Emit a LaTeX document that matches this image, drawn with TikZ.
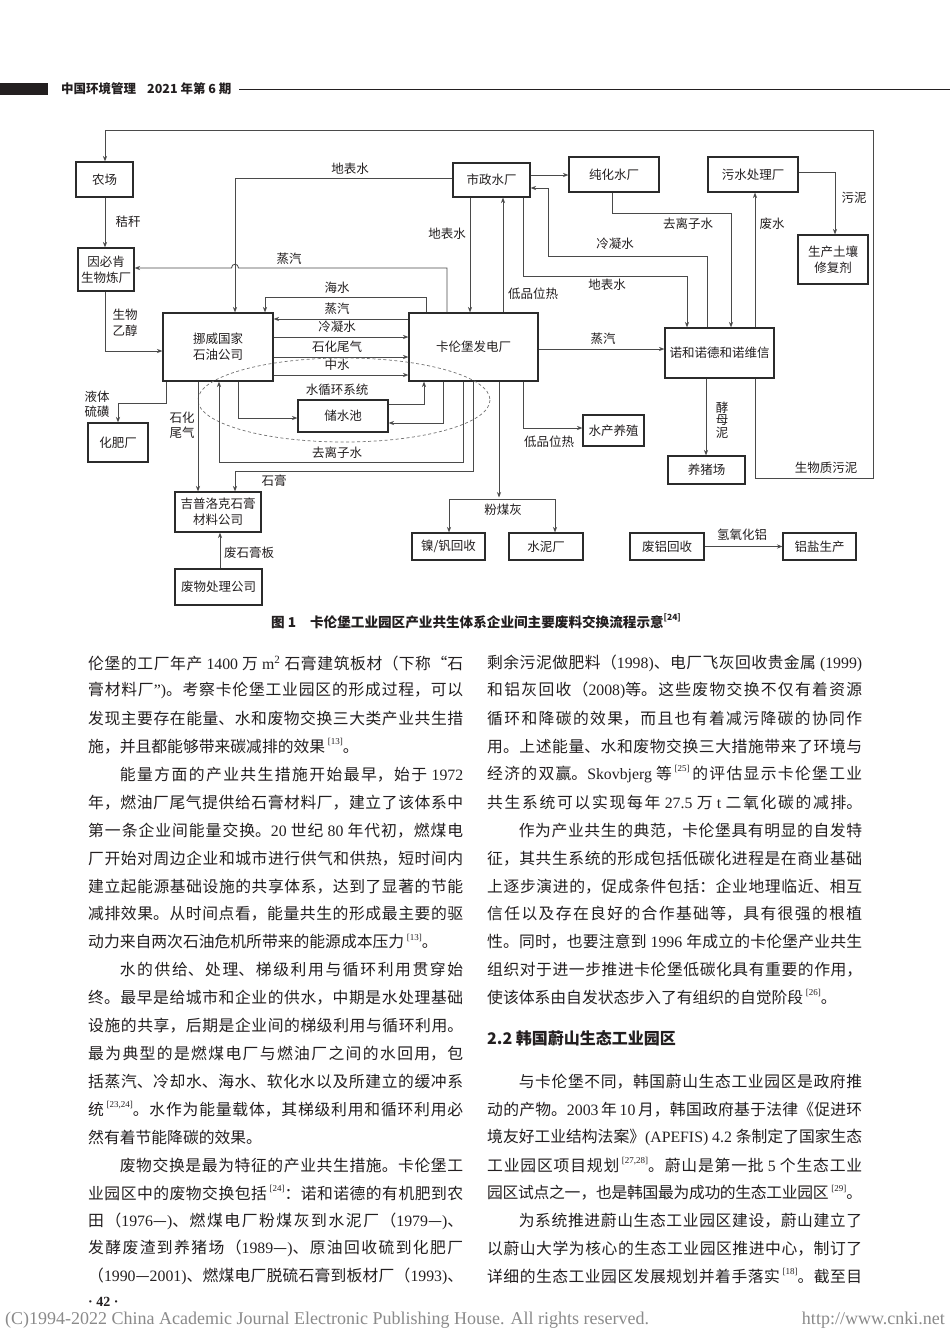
\documentclass[tikz,border=0pt]{standalone}
\usepackage{fontspec}
\setmainfont{Noto Sans CJK SC}
\newfontfamily\lserif{Liberation Serif}
\usetikzlibrary{arrows.meta,calc}
\XeTeXlinebreaklocale "zh"
\XeTeXlinebreakskip=0pt plus 8pt minus 0.6pt
\XeTeXlinebreakpenalty=10000
\definecolor{txt}{HTML}{231F20}
\definecolor{linec}{HTML}{4A4A4A}
\definecolor{boxc}{HTML}{2B2B2B}
\definecolor{dashc}{HTML}{707070}
\definecolor{foot}{HTML}{8A8A8A}
\newcommand\dfont{\fontsize{12.5}{16}\selectfont}
\newcommand\bodyf{\fontsize{15.8}{18}\selectfont}
\newcommand\T[1]{{\lserif #1}}
\newcommand\rf[1]{\smash{\raisebox{0.5em}{\fontsize{9}{9}\selectfont\lserif{}[#1]}}}
\newcommand\JL[3]{\node[anchor=west,inner sep=0pt,text=txt] (#1) at (#2) {\parbox{375pt}{\bodyf\parfillskip=0pt\relax#3}};}
\newcommand\PL[3]{\node[anchor=west,inner sep=0pt,text=txt] (#1) at (#2) {\parbox{375pt}{\bodyf#3}};}
\tikzset{
  box/.style={draw=boxc,line width=1.2pt,inner sep=0pt,align=center,font=\dfont,text=txt},
  lab/.style={font=\dfont,inner sep=0pt,text=txt,align=center},
  con/.style={draw=linec,line width=0.85pt},
  arr/.style={con,-{Stealth[length=5.5pt,width=4.2pt]}},
}
\begin{document}
\begin{tikzpicture}[x=1pt,y=-1pt]
\useasboundingbox (0,0) rectangle (950,1330);
\fill[white] (0,0) rectangle (950,1330);

% header
\fill[txt] (0,83) rectangle (48,95);
\node[anchor=west,inner sep=0pt,text=txt,font=\bfseries\fontsize{12.5}{14}\selectfont] (hdr) at (61,89) {中国环境管理\hspace{11pt}2021 年第 6 期};
\draw[txt,line width=0.9pt] (239,89) -- (950,89);

% boxes
\node[box,minimum width=57pt,minimum height=35pt] (farm) at (104.5,179.5) {农场};
\node[box,minimum width=56pt,minimum height=43pt] (yin) at (106,269.5) {因必肯\\生物炼厂};
\node[box,minimum width=77pt,minimum height=34pt] (muni) at (491.5,180) {市政水厂};
\node[box,minimum width=90pt,minimum height=35pt] (pure) at (614,174.5) {纯化水厂};
\node[box,minimum width=90pt,minimum height=35pt] (sewage) at (753,174.5) {污水处理厂};
\node[box,minimum width=70pt,minimum height=49pt] (soil) at (833,259.5) {生产土壤\\修复剂};
\node[box,minimum width=110pt,minimum height=68pt] (nor) at (218,347) {挪威国家\\石油公司};
\node[box,minimum width=129pt,minimum height=68pt] (kal) at (473.5,347) {卡伦堡发电厂};
\node[box,minimum width=109pt,minimum height=50pt] (novo) at (719.5,353) {诺和诺德和诺维信};
\node[box,minimum width=90pt,minimum height=32pt] (pool) at (343,416) {储水池};
\node[box,minimum width=60pt,minimum height=39pt] (fert) at (118,442.5) {化肥厂};
\node[box,minimum width=61pt,minimum height=31pt] (aqua) at (613.5,430.5) {水产养殖};
\node[box,minimum width=77pt,minimum height=28pt] (pig) at (706.5,470) {养猪场};
\node[box,minimum width=86pt,minimum height=40pt] (gyp) at (218,512) {吉普洛克石膏\\材料公司};
\node[box,minimum width=87pt,minimum height=36pt] (waste) at (218.5,587) {废物处理公司};
\node[box,minimum width=73pt,minimum height=27pt] (nick) at (448.5,546.5) {镍/钒回收};
\node[box,minimum width=74pt,minimum height=27pt] (cement) at (546,546.5) {水泥厂};
\node[box,minimum width=74pt,minimum height=27pt] (alu) at (667,546.5) {废铝回收};
\node[box,minimum width=73pt,minimum height=27pt] (alsalt) at (819.5,546.5) {铝盐生产};

% water cycle ellipse
\draw[dashc,line width=0.7pt,dash pattern=on 3pt off 2.5pt] (344,400) ellipse (146 and 42);

% connectors
\draw[arr] (755,0 |- novo.south) -- (755,478) -- (873,478) -- (873,130) -- (105,130) -- (105,0 |- farm.north);
\draw[arr] (105,0 |- farm.south) -- (105,0 |- yin.north);
\draw[arr] (105,0 |- yin.south) -- (105,351) -- (nor.west |- 0,351);
\draw[arr] (muni.west |- 0,178) -- (235,178) -- (235,0 |- nor.north);
\draw[arr] (447,0 |- kal.north) -- (447,268) -- (238.5,268) .. controls (238.5,263) and (231.5,263) .. (231.5,268) -- (yin.east |- 0,268);
\draw[arr] (426,0 |- kal.north) -- (426,297) -- (265,297) -- (265,0 |- nor.north);
\draw[arr] (kal.west |- 0,319) -- (nor.east |- 0,319);
\draw[arr] (nor.east |- 0,337) -- (kal.west |- 0,337);
\draw[arr] (nor.east |- 0,357) -- (kal.west |- 0,357);
\draw[arr] (nor.east |- 0,375) -- (kal.west |- 0,375);
\draw[arr] (470,0 |- muni.south) -- (470,0 |- kal.north);
\draw[arr] (503,0 |- kal.north) -- (503,0 |- muni.south);
\draw[arr] (muni.east |- 0,175) -- (pure.west |- 0,175);
\draw[arr] (612,0 |- pure.south) -- (612,213) -- (731,213) -- (731,0 |- novo.north);
\draw[arr] (707,0 |- novo.north) -- (707,256) -- (548,256) -- (548,188) -- (muni.east |- 0,188);
\draw[arr] (523,0 |- muni.south) -- (523,276) -- (687,276) -- (687,0 |- novo.north);
\draw[arr] (755,0 |- novo.north) -- (755,0 |- sewage.south);
\draw[arr] (sewage.east |- 0,172) -- (835,172) -- (835,0 |- soil.north);
\draw[arr] (kal.east |- 0,349) -- (novo.west |- 0,349);
\draw[arr] (706,0 |- novo.south) -- (706,0 |- pig.north);
\draw[arr] (523,0 |- kal.south) -- (523,428) -- (aqua.west |- 0,428);
\draw[arr] (166,0 |- nor.south) -- (166,403) -- (118,403) -- (118,0 |- fert.north);
\draw[arr] (198,0 |- nor.south) -- (198,0 |- gyp.north);
\draw[arr] (463,0 |- kal.south) -- (463,462) -- (219,462) -- (219,0 |- nor.south);
\draw[arr] (473,0 |- kal.south) -- (473,471) -- (235,471) -- (235,0 |- gyp.north);
\draw[arr] (238,0 |- nor.south) -- (238,418) -- (pool.west |- 0,418);
\draw[arr] (pool.east |- 0,404) -- (424,404) -- (424,0 |- kal.south);
\draw[arr] (443,0 |- kal.south) -- (443,423) -- (pool.east |- 0,423);
\draw[arr] (499,0 |- kal.south) -- (499,497.5);
\draw[arr] (555,499) -- (449,499) -- (449,0 |- nick.north);
\draw[arr] (555,499) -- (555,0 |- cement.north);
\draw[arr] (alu.east) -- (alsalt.west);
\draw[arr] (220,0 |- waste.north) -- (220,0 |- gyp.south);

% connector labels
\node[lab] (l1) at (350,169) {地表水};
\node[lab] (l2) at (128,222) {秸秆};
\node[lab,font=\fontsize{12.5}{16}\selectfont] (l3) at (125,323) {生物\\乙醇};
\node[lab] (l4) at (289,259) {蒸汽};
\node[lab] (l5) at (447,234) {地表水};
\node[lab] (l6) at (533,294) {低品位热};
\node[lab] (l7) at (337,288) {海水};
\node[lab] (l8) at (337,309) {蒸汽};
\node[lab] (l9) at (337,327) {冷凝水};
\node[lab] (l10) at (337,347) {石化尾气};
\node[lab] (l11) at (337,365) {中水};
\node[lab] (l12) at (337,390) {水循环系统};
\node[lab] (l13) at (337,453) {去离子水};
\node[lab] (l14) at (274,481) {石膏};
\node[lab,font=\fontsize{12.5}{15.5}\selectfont] (l15) at (97,404) {液体\\硫磺};
\node[lab,font=\fontsize{12.5}{15.5}\selectfont] (l16) at (182,425) {石化\\尾气};
\node[lab] (l17) at (688,224) {去离子水};
\node[lab] (l18) at (615,244) {冷凝水};
\node[lab] (l19) at (607,285) {地表水};
\node[lab] (l20) at (772,224) {废水};
\node[lab] (l21) at (854,198) {污泥};
\node[lab] (l22) at (603,339) {蒸汽};
\node[lab] (l23) at (549,442) {低品位热};
\node[lab,font=\fontsize{12.5}{12.6}\selectfont] (l24) at (722,420) {酵\\母\\泥};
\node[lab] (l25) at (826,468) {生物质污泥};
\node[lab] (l26) at (503,510) {粉煤灰};
\node[lab] (l27) at (742,535) {氢氧化铝};
\node[lab] (l28) at (249,553) {废石膏板};

% caption
\node[inner sep=0pt,text=txt,font=\bfseries\fontsize{13.6}{15}\selectfont] (cap) at (476,622) {图 1\hspace{14pt}卡伦堡工业园区产业共生体系企业间主要废料交换流程示意\smash{\raisebox{0.5em}{\fontsize{8.5}{9}\selectfont[24]}}};

% left column
\JL{a0}{88,663}{伦堡的工厂年产\T{~1400~}万\T{~m\textsuperscript{2}~}石膏建筑板材（下称“石}
\JL{a1}{88,690.9}{膏材料厂\T{”)}。考察卡伦堡工业园区的形成过程，可以}
\JL{a2}{88,718.8}{发现主要存在能量、水和废物交换三大类产业共生措}
\PL{a3}{88,746.7}{施，并且都能够带来碳减排的效果\,\rf{13}。}
\JL{a4}{88,774.6}{\hspace*{2em}能量方面的产业共生措施开始最早，始于\T{~1972}}
\JL{a5}{88,802.5}{年，燃油厂尾气提供给石膏材料厂，建立了该体系中}
\JL{a6}{88,830.4}{第一条企业间能量交换。\T{20~}世纪\T{~80~}年代初，燃煤电}
\JL{a7}{88,858.3}{厂开始对周边企业和城市进行供气和供热，短时间内}
\JL{a8}{88,886.2}{建立起能源基础设施的共享体系，达到了显著的节能}
\JL{a9}{88,914.1}{减排效果。从时间点看，能量共生的形成最主要的驱}
\PL{a10}{88,942}{动力来自两次石油危机所带来的能源成本压力\,\rf{13}。}
\JL{a11}{88,969.9}{\hspace*{2em}水的供给、处理、梯级利用与循环利用贯穿始}
\JL{a12}{88,997.8}{终。最早是给城市和企业的供水，中期是水处理基础}
\JL{a13}{88,1025.7}{设施的共享，后期是企业间的梯级利用与循环利用。}
\JL{a14}{88,1053.6}{最为典型的是燃煤电厂与燃油厂之间的水回用，包}
\JL{a15}{88,1081.5}{括蒸汽、冷却水、海水、软化水以及所建立的缓冲系}
\JL{a16}{88,1109.4}{统\,\rf{23,24}。水作为能量载体，其梯级利用和循环利用必}
\PL{a17}{88,1137.3}{然有着节能降碳的效果。}
\JL{a18}{88,1165.2}{\hspace*{2em}废物交换是最为特征的产业共生措施。卡伦堡工}
\JL{a19}{88,1193.1}{业园区中的废物交换包括\,\rf{24}：诺和诺德的有机肥到农}
\JL{a20}{88,1221}{田（\T{1976}—\T{)}、燃煤电厂粉煤灰到水泥厂（\T{1979}—\T{)}、}
\JL{a21}{88,1248.9}{发酵废渣到养猪场（\T{1989}—\T{)}、原油回收硫到化肥厂}
\JL{a22}{88,1276.8}{（\T{1990}—\T{2001)}、燃煤电厂脱硫石膏到板材厂（\T{1993)}、}

% right column
\JL{b0}{487,663}{剩余污泥做肥料（\T{1998)}、电厂飞灰回收贵金属\T{~(1999)}}
\JL{b1}{487,690.9}{和铝灰回收（\T{2008)}等。这些废物交换不仅有着资源}
\JL{b2}{487,718.8}{循环和降碳的效果，而且也有着减污降碳的协同作}
\JL{b3}{487,746.7}{用。上述能量、水和废物交换三大措施带来了环境与}
\JL{b4}{487,774.6}{经济的双赢。\T{Skovbjerg~}等\,\rf{25}\,的评估显示卡伦堡工业}
\JL{b5}{487,802.5}{共生系统可以实现每年\T{~27.5~}万\T{~t~}二氧化碳的减排。}
\JL{b6}{487,830.4}{\hspace*{2em}作为产业共生的典范，卡伦堡具有明显的自发特}
\JL{b7}{487,858.3}{征，其共生系统的形成包括低碳化进程是在商业基础}
\JL{b8}{487,886.2}{上逐步演进的，促成条件包括：企业地理临近、相互}
\JL{b9}{487,914.1}{信任以及存在良好的合作基础等，具有很强的根植}
\JL{b10}{487,942}{性。同时，也要注意到\T{~1996~}年成立的卡伦堡产业共生}
\JL{b11}{487,969.9}{组织对于进一步推进卡伦堡低碳化具有重要的作用，}
\PL{b12}{487,997.8}{使该体系由自发状态步入了有组织的自觉阶段\,\rf{26}。}
\node[anchor=west,inner sep=0pt,text=txt,font=\bfseries\fontsize{16}{18}\selectfont] (h22) at (487,1038) {2.2 韩国蔚山生态工业园区};
\JL{b13}{487,1081.5}{\hspace*{2em}与卡伦堡不同，韩国蔚山生态工业园区是政府推}
\JL{b14}{487,1109.4}{动的产物。\T{2003\,}年\T{\,10\,}月，韩国政府基于法律《促进环}
\JL{b15}{487,1137.3}{境友好工业结构法案》\T{(APEFIS)~4.2~}条制定了国家生态}
\JL{b16}{487,1165.2}{工业园区项目规划\,\rf{27,28}。蔚山是第一批\T{~5~}个生态工业}
\JL{b17}{487,1193.1}{园区试点之一，也是韩国最为成功的生态工业园区\,\rf{29}。}
\JL{b18}{487,1221}{\hspace*{2em}为系统推进蔚山生态工业园区建设，蔚山建立了}
\JL{b19}{487,1248.9}{以蔚山大学为核心的生态工业园区推进中心，制订了}
\JL{b20}{487,1276.8}{详细的生态工业园区发展规划并着手落实\,\rf{18}。截至目}

% page number and footer
\node[anchor=west,inner sep=0pt,text=txt] (pg) at (88,1302) {\lserif\bfseries\fontsize{14}{15}\selectfont ·~42~·};
\node[anchor=west,inner sep=0pt,text=foot] (ft1) at (5,1320) {\lserif\fontsize{18}{19}\selectfont (C)1994-2022 China Academic Journal Electronic Publishing House. All rights reserved.};
\node[anchor=east,inner sep=0pt,text=foot] (ft2) at (945,1320) {\lserif\fontsize{18}{19}\selectfont http://www.cnki.net};
\end{tikzpicture}
\end{document}
